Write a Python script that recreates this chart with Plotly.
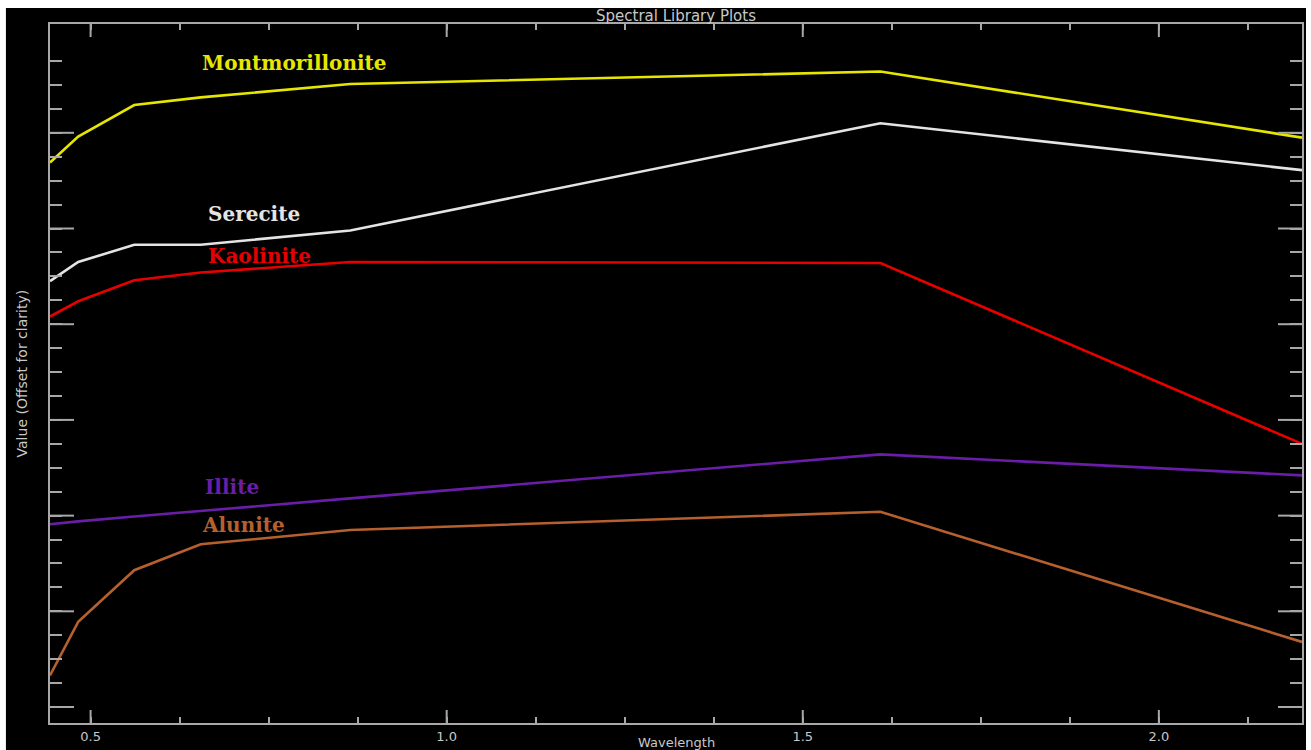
import plotly.graph_objects as go

# Landsat-8 OLI band centres (micrometres)
wavelength = [0.443, 0.4826, 0.5613, 0.6546, 0.8646, 1.609, 2.201]

# Offset spectral library values, one list per mineral
montmorillonite = [0.569, 0.596, 0.629, 0.637, 0.651, 0.664, 0.595]
serecite = [0.445, 0.465, 0.483, 0.483, 0.498, 0.610, 0.561]
kaolinite = [0.408, 0.424, 0.446, 0.454, 0.465, 0.464, 0.275]
illite = [0.191, 0.194, 0.199, 0.205, 0.218, 0.264, 0.242]
alunite = [0.033, 0.089, 0.143, 0.170, 0.185, 0.204, 0.068]

names = ["Montmorillonite", "Serecite", "Kaolinite", "Illite", "Alunite"]
series = [montmorillonite, serecite, kaolinite, illite, alunite]
colors = ["#e6e600", "#e4e4e4", "#e60000", "#6a1ea8", "#b5602e"]

# where each spectrum's name is written (x in micrometres, y in value units)
label_x = [0.786, 0.730, 0.737, 0.698, 0.714]
label_y = [0.673, 0.515, 0.471, 0.230, 0.190]

x_major = [0.5, 1.0, 1.5, 2.0]
x_major_text = ["0.5", "1.0", "1.5", "2.0"]
x_minor = [0.625, 0.75, 0.875, 1.125, 1.25, 1.375, 1.625, 1.75, 1.875, 2.125]
y_major = [0.0, 0.1, 0.2, 0.3, 0.4, 0.5, 0.6]
y_minor = [v / 1000 for v in range(25, 700, 25) if v % 100 != 0]

x_range = [0.443, 2.201]
y_range = [-0.0167, 0.7137]

axis_col = "#a8a8a8"
text_col = "#c8c8c8"

# plot-area size in pixels, used to turn tick lengths into paper fractions
plot_w, plot_h = 1252, 699
x_major_len = 13 / plot_h
y_major_len = 24 / plot_w

fig = go.Figure()
for name, ys, col in zip(names, series, colors):
    fig.add_trace(go.Scatter(x=wavelength, y=ys, mode="lines", name=name,
                             line=dict(color=col, width=2.6), showlegend=False))

for name, lx, ly, col in zip(names, label_x, label_y, colors):
    fig.add_annotation(x=lx, y=ly, xref="x", yref="y", text="<b>" + name + "</b>",
                       showarrow=False, xanchor="center", yanchor="middle",
                       font=dict(family="DejaVu Serif", size=20, color=col))

# long major tick marks on all four sides of the frame
for v in x_major:
    for y0, y1 in [(0, x_major_len), (1 - x_major_len, 1)]:
        fig.add_shape(type="line", xref="x", yref="paper", x0=v, x1=v, y0=y0, y1=y1,
                      line=dict(color=axis_col, width=2), layer="above")
for v in y_major:
    for x0, x1 in [(0, y_major_len), (1 - y_major_len, 1)]:
        fig.add_shape(type="line", xref="paper", yref="y", x0=x0, x1=x1, y0=v, y1=v,
                      line=dict(color=axis_col, width=2), layer="above")

# thin light strips along the top, left and right edges of the dark page
for x0, x1, y0, y1 in [(-0.05, 1.02, 1.0229, 1.05),
                       (-0.05, -0.0352, -0.05, 1.05),
                       (1.0032, 1.02, -0.05, 1.05)]:
    fig.add_shape(type="rect", xref="paper", yref="paper",
                  x0=x0, x1=x1, y0=y0, y1=y1,
                  fillcolor="white", line=dict(width=0), layer="above")

fig.add_annotation(x=0.5, y=1.0114, xref="paper", yref="paper",
                   text="Spectral Library Plots", showarrow=False,
                   xanchor="center", yanchor="middle",
                   font=dict(family="DejaVu Sans", size=15, color=text_col))
fig.add_annotation(x=0.5, y=-0.0272, xref="paper", yref="paper",
                   text="Wavelength", showarrow=False,
                   xanchor="center", yanchor="middle",
                   font=dict(family="DejaVu Sans", size=13, color=text_col))
fig.add_annotation(x=-0.0224, y=0.5, xref="paper", yref="paper",
                   text="Value (Offset for clarity)", showarrow=False, textangle=-90,
                   xanchor="center", yanchor="middle",
                   font=dict(family="DejaVu Sans", size=14, color=text_col))

all_x = sorted(x_major + x_minor)
all_x_text = [x_major_text[x_major.index(v)] if v in x_major else "" for v in all_x]
all_y = sorted(y_major + y_minor)

fig.update_layout(
    width=1311, height=750,
    margin=dict(l=50, r=9, t=24, b=27, autoexpand=False),
    paper_bgcolor="black", plot_bgcolor="black",
    xaxis=dict(range=x_range, showgrid=False, zeroline=False, automargin=False,
               showline=True, linecolor=axis_col, linewidth=2, mirror="ticks",
               ticks="inside", ticklen=6, tickwidth=2, tickcolor=axis_col,
               tickvals=all_x, ticktext=all_x_text,
               tickfont=dict(family="DejaVu Sans", size=13, color=text_col)),
    yaxis=dict(range=y_range, showgrid=False, zeroline=False, automargin=False,
               showline=True, linecolor=axis_col, linewidth=2, mirror="ticks",
               ticks="inside", ticklen=12, tickwidth=2, tickcolor=axis_col,
               tickvals=all_y, showticklabels=False),
)

fig.write_html("out.html")
